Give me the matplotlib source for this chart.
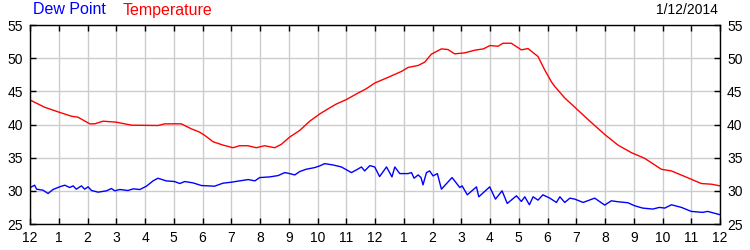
import matplotlib.pyplot as plt
import numpy as np

plt.rcParams['font.family'] = ['Liberation Sans', 'DejaVu Sans']

# hours since midnight and temperature readings (F)
temp_hours = [0.02, 0.51, 0.98, 1.44, 1.67, 2.08, 2.25, 2.54, 3.0, 3.53, 4.45, 4.69,
              5.26, 5.61, 5.9, 6.08, 6.37, 6.71, 7.06, 7.29, 7.58, 7.87, 8.16, 8.51,
              8.74, 9.03, 9.38, 9.73, 10.08, 10.42, 10.66, 11.0, 11.35, 11.7, 11.99,
              12.45, 12.92, 13.15, 13.5, 13.73, 13.96, 14.31, 14.54, 14.77, 15.12,
              15.47, 15.77, 16.0, 16.28, 16.45, 16.74, 17.09, 17.32, 17.67, 17.9,
              18.14, 18.25, 18.6, 19.0, 19.41, 19.99, 20.45, 20.92, 21.38, 21.96,
              22.31, 23.0, 23.35, 23.7, 24.0]
temp_vals = [43.65, 42.6, 41.9, 41.25, 41.1, 40.1, 40.1, 40.5, 40.35, 39.9, 39.85, 40.1,
             40.1, 39.35, 38.85, 38.35, 37.4, 36.9, 36.5, 36.8, 36.8, 36.5, 36.8, 36.5,
             37.0, 38.1, 39.1, 40.5, 41.6, 42.5, 43.1, 43.75, 44.6, 45.4, 46.25,
             47.1, 48.0, 48.6, 48.9, 49.4, 50.6, 51.4, 51.3, 50.65, 50.8,
             51.2, 51.4, 51.9, 51.8, 52.25, 52.25, 51.25, 51.45, 50.25, 48.25,
             46.4, 45.75, 44.0, 42.4, 40.75, 38.5, 36.9, 35.75, 34.9, 33.25,
             33.0, 31.75, 31.1, 31.0, 30.75]

# dew point readings (F)
dew_hours = [0.01, 0.16, 0.23, 0.45, 0.63, 0.8, 1.03, 1.21, 1.38, 1.5, 1.61, 1.79, 1.9,
             2.02, 2.14, 2.37, 2.66, 2.83, 2.95, 3.12, 3.41, 3.59, 3.82, 4.05, 4.28,
             4.45, 4.74, 5.03, 5.21, 5.38, 5.67, 5.96, 6.42, 6.71, 7.0, 7.29, 7.59,
             7.82, 7.99, 8.34, 8.63, 8.86, 9.03, 9.21, 9.38, 9.6, 9.9, 10.07, 10.25,
             10.54, 10.83, 11.18, 11.35, 11.53, 11.64, 11.82, 11.99, 12.16, 12.4,
             12.59, 12.69, 12.86, 13.15, 13.27, 13.36, 13.5, 13.6, 13.67, 13.79, 13.9,
             14.02, 14.17, 14.31, 14.68, 14.95, 15.03, 15.21, 15.53, 15.61, 15.99,
             16.19, 16.31, 16.42, 16.6, 16.92, 17.09, 17.21, 17.37, 17.5, 17.67,
             17.84, 18.08, 18.31, 18.43, 18.6, 18.78, 18.95, 19.24, 19.64, 19.99,
             20.22, 20.46, 20.8, 21.03, 21.31, 21.66, 21.89, 22.08, 22.31, 22.66,
             23.0, 23.4, 23.57, 24.0]
dew_vals = [30.5, 30.85, 30.25, 30.1, 29.6, 30.2, 30.6, 30.85, 30.5, 30.75, 30.25, 30.75, 30.25,
            30.6, 30.05, 29.8, 30.0, 30.35, 30.0, 30.2, 30.05, 30.3, 30.2, 30.7, 31.5,
            31.9, 31.5, 31.4, 31.1, 31.4, 31.2, 30.8, 30.7, 31.15, 31.3, 31.5, 31.7,
            31.5, 32.0, 32.1, 32.3, 32.75, 32.6, 32.4, 32.9, 33.25, 33.5, 33.75, 34.1,
            33.9, 33.6, 32.75, 33.15, 33.6, 33.0, 33.8, 33.6, 32.15, 33.6,
            32.1, 33.6, 32.6, 32.6, 32.75, 31.9, 32.4, 32.0, 30.9, 32.75, 33.0,
            32.25, 32.6, 30.25, 32.0, 30.5, 30.75, 29.4, 30.6, 29.1, 30.6,
            28.75, 29.4, 30.0, 28.1, 29.25, 28.4, 29.1, 27.9, 29.1, 28.6,
            29.4, 28.9, 28.25, 29.1, 28.25, 28.9, 28.75, 28.25, 28.9, 27.85,
            28.5, 28.35, 28.2, 27.75, 27.4, 27.25, 27.5, 27.4, 27.9, 27.5,
            26.9, 26.75, 26.9, 26.4]

hour_labels = ['12', '1', '2', '3', '4', '5', '6', '7', '8', '9', '10', '11'] * 2 + ['12']
y_ticks = [25, 30, 35, 40, 45, 50, 55]

fig = plt.figure(figsize=(7.5, 2.5), dpi=100)
ax = fig.add_axes([0.04, 0.104, 0.92, 0.796])

ax.plot(temp_hours, temp_vals, color='#ff0000', linewidth=1)
ax.plot(dew_hours, dew_vals, color='#0000ff', linewidth=1)

ax.set_xlim(0, 24)
ax.set_ylim(25, 55)
ax.set_xticks(np.arange(25))
ax.set_xticklabels(hour_labels)
ax.set_yticks(y_ticks)
ax.grid(True, color='#cccccc', linewidth=1)
ax.set_axisbelow(True)

ax.tick_params(direction='in', length=4, width=1, labelsize=10, pad=5,
               top=True, bottom=True, left=True, right=True,
               labelleft=True, labelright=True)
for s in ax.spines.values():
    s.set_linewidth(1)

fig.text(0.044, 0.93, 'Dew Point', color='#0000ff', fontsize=11.5, va='bottom')
fig.text(0.164, 0.93, 'Temperature', color='#ff0000', fontsize=11.5, va='bottom')
fig.text(0.957, 0.93, '1/12/2014', color='black', fontsize=10, ha='right', va='bottom')

fig.savefig('out.png', dpi=100)
